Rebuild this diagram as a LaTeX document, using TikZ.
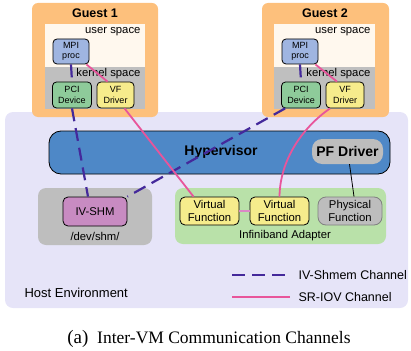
\documentclass[tikz,border=0pt]{standalone}
\usepackage{fontspec}
\setmainfont{Liberation Sans}
\newfontfamily\capfont{Liberation Serif}
\usepackage{tikz}

\definecolor{hostbg}{HTML}{E6E4F8}
\definecolor{guestor}{HTML}{FDC07C}
\definecolor{userbg}{HTML}{FFF8EE}
\definecolor{kernbg}{HTML}{BFBFBF}
\definecolor{mpiblue}{HTML}{9FB5E1}
\definecolor{pcigreen}{HTML}{8ECB9A}
\definecolor{vfyellow}{HTML}{F6EC8C}
\definecolor{hypblue}{HTML}{4E88C7}
\definecolor{pfgray}{HTML}{BDBDBD}
\definecolor{shmgray}{HTML}{BEBEBE}
\definecolor{shmpurple}{HTML}{C88BC2}
\definecolor{ibgreen}{HTML}{B9E1A9}
\definecolor{chanpurple}{HTML}{44299B}
\definecolor{chanpink}{HTML}{E8559B}
\definecolor{linkpink}{HTML}{DB88C6}

\begin{document}
\begin{tikzpicture}[x = 1pt, y = -1pt, font = \fontsize{11.3}{13}\selectfont,
        smallbox/.style = {draw, rounded corners = 4pt, line width = 0.8pt, align = center, inner sep = 0pt,
            minimum height = 25pt, font = \fontsize{9}{10.5}\selectfont},
        funcbox/.style = {draw, rounded corners = 5pt, line width = 0.8pt, align = center, inner sep = 0pt,
            minimum height = 28pt, font = \fontsize{11.3}{13}\selectfont},
        shmline/.style = {chanpurple, line width = 2.2pt, dash pattern = on 13pt off 7pt},
        sriovline/.style = {chanpink, line width = 1.8pt}]
    \useasboundingbox (0,0) rectangle (411,350);

    \fill [hostbg, rounded corners = 8pt] (5,112) rectangle (408,308);

    \fill [guestor, rounded corners = 6pt] (32,3) rectangle (158,117);
    \fill [userbg] (45,24) rectangle (145,67);
    \fill [kernbg] (45,67) rectangle (145,109);
    \node [font = \bfseries\fontsize{12.5}{14}\selectfont] (guest1) at (95,13) {Guest 1};
    \node [anchor = east] (user1) at (144,32) {user space};
    \node [anchor = east] (kern1) at (144,74) {kernel space};

    \fill [guestor, rounded corners = 6pt] (262,3) rectangle (389,117);
    \fill [userbg] (274,24) rectangle (375,67);
    \fill [kernbg] (274,67) rectangle (375,109);
    \node [font = \bfseries\fontsize{12.5}{14}\selectfont] (guest2) at (325,13) {Guest 2};
    \node [anchor = east] (user2) at (374,32) {user space};
    \node [anchor = east] (kern2) at (374,74) {kernel space};

    \node [smallbox, fill = mpiblue, minimum width = 36pt] (mpi1) at (71,51.5) {MPI\\proc};
    \node [smallbox, fill = pcigreen, minimum width = 39pt, minimum height = 26pt] (pci1) at (72,95) {PCI\\Device};
    \node [smallbox, fill = vfyellow, minimum width = 37pt, minimum height = 26pt] (vfd1) at (115.5,95) {VF\\Driver};

    \node [smallbox, fill = mpiblue, minimum width = 36pt] (mpi2) at (300,51.5) {MPI\\proc};
    \node [smallbox, fill = pcigreen, minimum width = 39pt, minimum height = 26pt] (pci2) at (301,95) {PCI\\Device};
    \node [smallbox, fill = vfyellow, minimum width = 38pt, minimum height = 26pt] (vfd2) at (345,95) {VF\\Driver};

    \draw [fill = hypblue, rounded corners = 12pt, line width = 0.8pt] (49,131) rectangle (390,174);
    \node [font = \bfseries\fontsize{14}{16}\selectfont] (hyp) at (221,152) {Hypervisor};
    \node [fill = pfgray, rounded corners = 10pt, minimum width = 71pt, minimum height = 25pt, inner sep = 0pt,
        font = \bfseries\fontsize{14}{16}\selectfont] (pfd) at (347.5,151.5) {PF Driver};

    \fill [shmgray, rounded corners = 8pt] (38,188) rectangle (152,245);
    \node [funcbox, fill = shmpurple, minimum width = 64pt, minimum height = 29pt] (ivshm) at (95,211.5) {IV-SHM};
    \node (devshm) at (95,236) {/dev/shm/};

    \fill [ibgreen, rounded corners = 8pt] (175,188) rectangle (386,244);
    \node [funcbox, fill = vfyellow, minimum width = 59pt] (vf1) at (209.5,211) {Virtual\\Function};
    \node [funcbox, fill = vfyellow, minimum width = 59pt] (vf2) at (279.5,211) {Virtual\\Function};
    \node [funcbox, draw = gray, fill = pfgray, rounded corners = 8pt, minimum width = 64pt] (phys) at (350,211) {Physical\\Function};
    \node (ib) at (285,236) {Infiniband Adapter};

    \draw [shmline] (mpi1.south) -- (pci1.north);
    \draw [shmline] (pci1.south) -- ([xshift = -7pt]ivshm.north);
    \draw [shmline] (mpi2.south) -- (pci2.north);
    \draw [shmline] ([xshift = 4pt]pci2.south west) -- (ivshm.north east);

    \draw [sriovline] ([xshift = -3pt]mpi1.south east) -- ([xshift = -8pt]vfd1.north);
    \draw [sriovline] ([xshift = 9pt]vfd1.south) -- ([xshift = -16pt]vf1.north);
    \draw [sriovline] ([xshift = -3pt]mpi2.south east) -- ([xshift = -8pt]vfd2.north);
    \draw [sriovline] ([xshift = -15pt]vfd2.south) .. controls (302,128) and (280,160) .. (vf2.north);
    \draw [linkpink, line width = 2pt] (vf1) -- (vf2);
    \draw [line width = 0.8pt] ([xshift = 2pt]pfd.south) -- ([xshift = 4pt]phys.north);

    \node [anchor = west, font = \fontsize{13}{15}\selectfont] (host) at (21,293) {Host Environment};

    \coordinate (shma) at (232,275);
    \coordinate (shmb) at (290,275);
    \draw [shmline] (shma) -- (shmb);
    \node [anchor = west, font = \fontsize{12.5}{14}\selectfont] (shmleg) at (295,275) {IV-Shmem Channel};
    \coordinate (srioa) at (232,297);
    \coordinate (sriob) at (290,297);
    \draw [sriovline] (srioa) -- (sriob);
    \node [anchor = west, font = \fontsize{12.5}{14}\selectfont] (srioleg) at (295,297) {SR-IOV Channel};

    \node [font = \capfont\fontsize{17.5}{20}\selectfont] (caption) at (209,339) {{\fontsize{19}{20}\selectfont(a)}\enspace Inter-VM Communication Channels};
\end{tikzpicture}
\end{document}
